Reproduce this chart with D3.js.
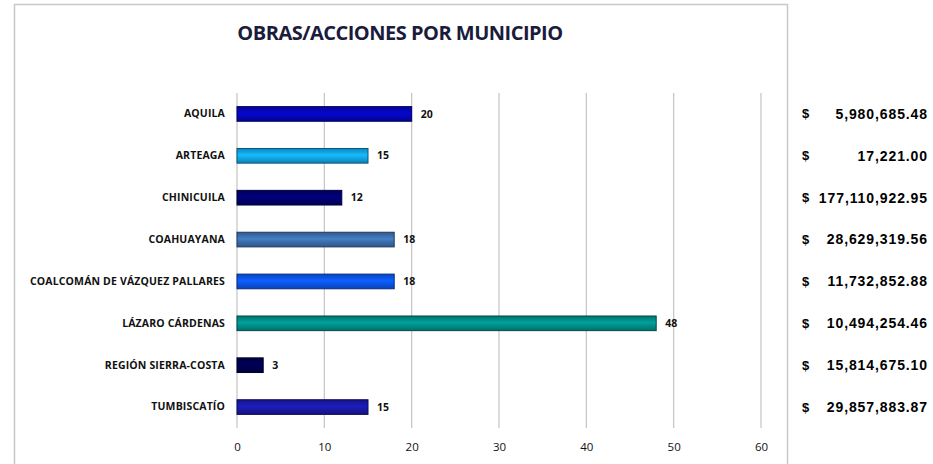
<!DOCTYPE html>
<html>
<head>
<meta charset="utf-8">
<script src="https://cdn.jsdelivr.net/npm/d3@7"></script>
<style>
  body { margin: 0; background: #fff; }
</style>
</head>
<body>
<div id="container"></div>
<script>
let municipios = ["AQUILA", "ARTEAGA", "CHINICUILA", "COAHUAYANA", "COALCOMÁN DE VÁZQUEZ PALLARES", "LÁZARO CÁRDENAS", "REGIÓN SIERRA-COSTA", "TUMBISCATÍO"];
let obras = [20, 15, 12, 18, 18, 48, 3, 15];
let montos = ["5,980,685.48", "17,221.00", "177,110,922.95", "28,629,319.56", "11,732,852.88", "10,494,254.46", "15,814,675.10", "29,857,883.87"];
let colores = ["#0505b8", "#12a6e6", "#00006e", "#3b6fae", "#0b55f2", "#008e88", "#00004e", "#1a1aa6"];
let xTicks = [0, 10, 20, 30, 40, 50, 60];

let w = 933;
let h = 464;

let viz = d3.select("#container")
  .append("svg")
    .attr("width", w)
    .attr("height", h)
;

// chart frame
viz.append("rect")
    .attr("x", 14.5)
    .attr("y", 4.5)
    .attr("width", 773)
    .attr("height", 470)
    .attr("fill", "#fff")
    .attr("stroke", "#c8c8c8")
    .attr("stroke-width", 1.5)
;

viz.append("text")
    .text("OBRAS/ACCIONES POR MUNICIPIO")
    .attr("x", 400)
    .attr("y", 40)
    .attr("text-anchor", "middle")
    .style("font-family", "'Open Sans', sans-serif")
    .style("font-weight", "bold")
    .style("font-size", "20px")
    .style("letter-spacing", "-0.5px")
    .attr("fill", "#1b1b3c")
;

let xScale = d3.scaleLinear().domain([0, 60]).range([237, 761]);
let yScale = d3.scaleBand().domain(municipios).range([93, 428]).paddingInner(0.65).paddingOuter(0.325);

// gridlines
viz.append("g")
  .selectAll("line")
  .data(xTicks)
  .join("line")
    .attr("x1", d => xScale(d))
    .attr("x2", d => xScale(d))
    .attr("y1", 93)
    .attr("y2", 428)
    .attr("stroke", "#c4c4c4")
    .attr("stroke-width", 1.2)
;

let xAxis = d3.axisBottom(xScale).tickValues(xTicks).tickSize(0).tickPadding(15);
let xAxisGroup = viz.append("g")
    .attr("transform", "translate(0,428)")
    .call(xAxis)
;
xAxisGroup.select(".domain").remove();
xAxisGroup.selectAll("text")
    .style("font-family", "'Open Sans', sans-serif")
    .style("font-size", "11.5px")
    .attr("fill", "#111")
;

let yAxis = d3.axisLeft(yScale).tickSize(0).tickPadding(12);
let yAxisGroup = viz.append("g")
    .attr("transform", "translate(237,0)")
    .call(yAxis)
;
yAxisGroup.select(".domain").remove();
yAxisGroup.selectAll("text")
    .style("font-family", "'Open Sans', sans-serif")
    .style("font-weight", "bold")
    .style("font-size", "10.5px")
    .style("letter-spacing", "0.15px")
    .attr("fill", "#111")
;

// bevel-looking gradients, one per bar
let defs = viz.append("defs");
colores.forEach(function(c, i){
  let g = defs.append("linearGradient")
      .attr("id", "grad" + i)
      .attr("x1", 0).attr("y1", 0).attr("x2", 0).attr("y2", 1);
  let base = d3.color(c);
  g.append("stop").attr("offset", "0%").attr("stop-color", base.darker(0.6));
  g.append("stop").attr("offset", "45%").attr("stop-color", base.brighter(0.35));
  g.append("stop").attr("offset", "100%").attr("stop-color", base.darker(0.7));
});

let rows = municipios.map(function(m, i){
  return { name: m, value: obras[i], monto: montos[i], idx: i };
});

viz.append("g")
  .selectAll("rect")
  .data(rows)
  .join("rect")
    .attr("x", xScale(0))
    .attr("y", d => yScale(d.name))
    .attr("width", d => xScale(d.value) - xScale(0))
    .attr("height", yScale.bandwidth())
    .attr("fill", d => "url(#grad" + d.idx + ")")
    .attr("stroke", d => d3.color(colores[d.idx]).darker(1.8))
    .attr("stroke-width", 1)
;

viz.append("g")
  .selectAll("text")
  .data(rows)
  .join("text")
    .text(d => d.value)
    .attr("x", d => xScale(d.value) + 9)
    .attr("y", d => yScale(d.name) + yScale.bandwidth() / 2)
    .attr("dy", "0.35em")
    .style("font-family", "'Open Sans', sans-serif")
    .style("font-weight", "bold")
    .style("font-size", "10.5px")
    .attr("fill", "#111")
;

// amounts column, outside the chart frame
let montoGroup = viz.append("g");
montoGroup.selectAll("text.signo")
  .data(rows)
  .join("text")
    .attr("class", "signo")
    .text("$")
    .attr("x", 802)
    .attr("y", d => yScale(d.name) + yScale.bandwidth() / 2)
    .attr("dy", "0.35em")
    .style("font-family", "'Liberation Sans', Arial, sans-serif")
    .style("font-weight", "bold")
    .style("font-size", "13px")
    .attr("fill", "#000")
;
montoGroup.selectAll("text.monto")
  .data(rows)
  .join("text")
    .attr("class", "monto")
    .text(d => d.monto)
    .attr("x", 928)
    .attr("y", d => yScale(d.name) + yScale.bandwidth() / 2)
    .attr("dy", "0.35em")
    .attr("text-anchor", "end")
    .style("font-family", "'Liberation Sans', Arial, sans-serif")
    .style("font-weight", "bold")
    .style("font-size", "14px")
    .style("letter-spacing", "0.9px")
    .attr("fill", "#000")
;
</script>
</body>
</html>
